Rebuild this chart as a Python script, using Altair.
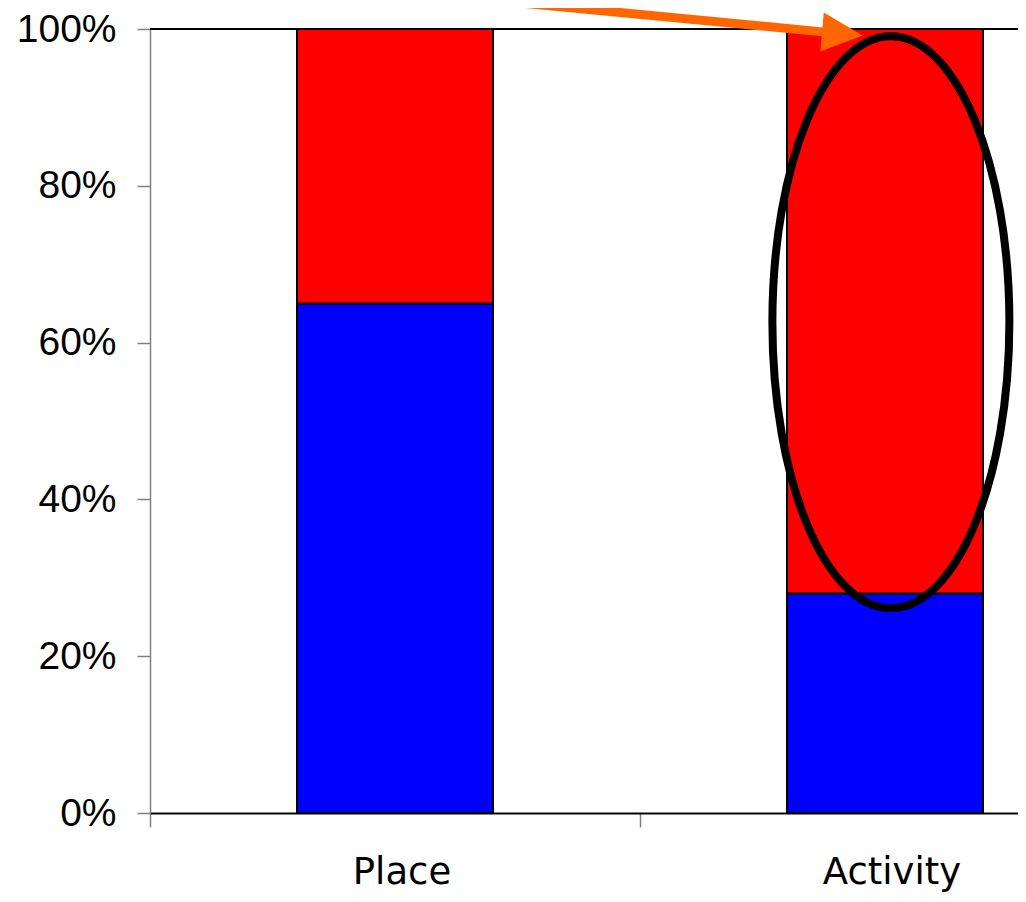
import altair as alt
import pandas as pd

# ---- data ----
categories = ["Place", "Activity"]
series_names = ["Series 1", "Series 2"]
series1_share = [65, 28]   # blue (bottom)
series2_share = [35, 72]   # red (top)
series_colors = ["#0000FF", "#FF0000"]

# annotation positions in data units (x: category band units, y: share 0..1)
ellipse_center = [1.512, 0.626]
arrow_start = [0.592, 1.043]
arrow_end = [1.378, 0.996]
arrow_head = [1.413, 0.994]

PLOT_W = 868
PLOT_H = 784
BAND_PX = 490
X_MAX = PLOT_W / BAND_PX

rows = []
for i, c in enumerate(categories):
    rows.append({"category": c, "idx": i, "series": series_names[0], "value": series1_share[i], "order": 0})
    rows.append({"category": c, "idx": i, "series": series_names[1], "value": series2_share[i], "order": 1})
df = pd.DataFrame(rows)

xscale = alt.Scale(domain=[0, X_MAX], nice=False, zero=False)
yscale = alt.Scale(domain=[0, 1], nice=False, zero=False)

bars = (
    alt.Chart(df)
    .transform_stack(stack="value", groupby=["category"], as_=["y0", "y1"],
                     offset="normalize", sort=[alt.SortField("order")])
    .transform_calculate(x0="datum.idx + 0.5 - 0.2", x1="datum.idx + 0.5 + 0.2")
    .mark_bar(stroke="black", strokeWidth=2, opacity=1)
    .encode(
        x=alt.X("x0:Q", scale=xscale,
                axis=alt.Axis(values=[0, 1], labels=False, title=None, grid=False,
                              tickSize=14, tickColor="#808080", tickWidth=1.5,
                              domainColor="black", domainWidth=2)),
        x2="x1:Q",
        y=alt.Y("y0:Q", scale=yscale,
                axis=alt.Axis(values=[0, 0.2, 0.4, 0.6, 0.8, 1.0], format=".0%", title=None,
                              grid=False, tickSize=13, tickColor="#808080", tickWidth=1.5,
                              labelPadding=21, labelFontSize=39, labelFont="Liberation Sans",
                              labelColor="black", domainColor="#808080", domainWidth=1.5)),
        y2="y1:Q",
        color=alt.Color("series:N", scale=alt.Scale(domain=series_names, range=series_colors),
                        legend=None),
    )
)

labels_df = pd.DataFrame({"category": categories, "idx": list(range(len(categories)))})
xlabels = (
    alt.Chart(labels_df)
    .transform_calculate(xc="datum.idx + 0.5")
    .mark_text(font="DejaVu Sans", fontSize=37, color="black", baseline="alphabetic",
               align="center", dx=7)
    .encode(x=alt.X("xc:Q", scale=xscale), y=alt.value(855), text="category:N")
)

border = (
    alt.Chart(pd.DataFrame({"a": [0]}))
    .mark_rule(color="black", strokeWidth=2)
    .encode(x=alt.value(0), x2=alt.value(PLOT_W), y=alt.value(0))
)

r = 118.5 / 286
ellipse_path = f"M {-r} 0 A {r} 1 0 1 0 {r} 0 A {r} 1 0 1 0 {-r} 0 Z"
ellipse = (
    alt.Chart(pd.DataFrame({"ex": [ellipse_center[0]], "ey": [ellipse_center[1]]}))
    .mark_point(shape=ellipse_path, size=572 ** 2, filled=False, stroke="black",
                strokeWidth=8, opacity=1)
    .encode(x=alt.X("ex:Q", scale=xscale), y=alt.Y("ey:Q", scale=yscale))
)

shaft = (
    alt.Chart(pd.DataFrame({"ax": [arrow_start[0], arrow_end[0]],
                            "ay": [arrow_start[1], arrow_end[1]]}))
    .mark_line(color="#FF6600", strokeWidth=9, strokeCap="butt")
    .encode(x=alt.X("ax:Q", scale=xscale), y=alt.Y("ay:Q", scale=yscale), order="ax:Q")
)

head = (
    alt.Chart(pd.DataFrame({"hx": [arrow_head[0]], "hy": [arrow_head[1]]}))
    .mark_point(shape="M 1 0 L -1 -0.96 L -1 0.96 Z", size=1665, filled=True,
                color="#FF6600", opacity=1, angle=5, strokeWidth=0)
    .encode(x=alt.X("hx:Q", scale=xscale), y=alt.Y("hy:Q", scale=yscale))
)

chart = (
    alt.layer(bars, ellipse, border, shaft, head, xlabels)
    .properties(
        width=PLOT_W,
        height=PLOT_H,
        autosize=alt.AutoSizeParams(type="none"),
        padding={"left": 142, "top": 21, "right": 0, "bottom": 80},
        background="white",
    )
    .configure_view(strokeWidth=0)
)

chart.save("out.html", embed_options={"renderer": "svg", "actions": False})
